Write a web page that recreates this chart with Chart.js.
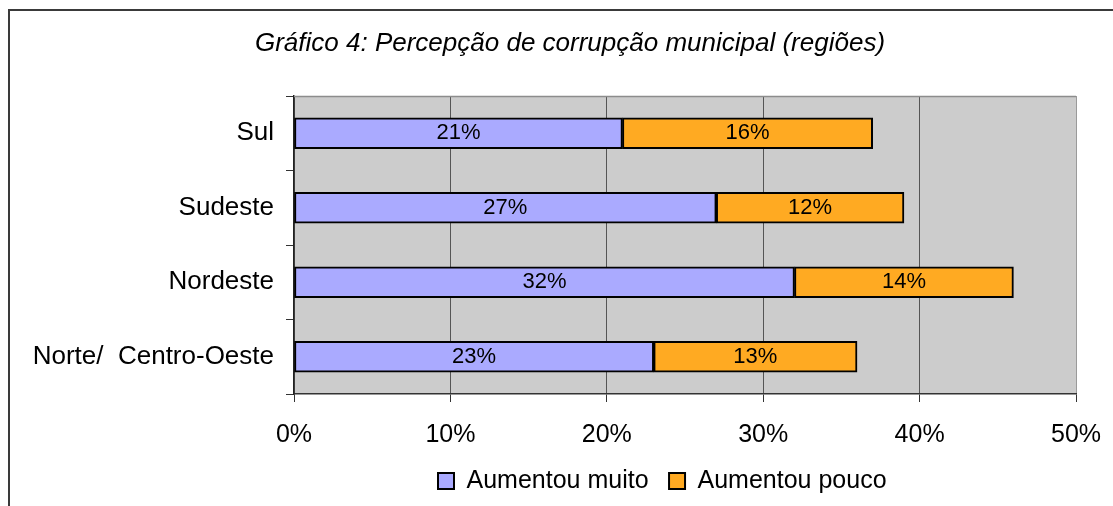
<!DOCTYPE html>
<html><head><meta charset="utf-8">
<script src="https://cdn.jsdelivr.net/npm/chart.js@4/dist/chart.umd.min.js"></script>
<style>html,body{margin:0;padding:0;background:#fff;overflow:hidden;}</style>
</head><body>
<canvas id="c" width="1113" height="506"></canvas>
<script>
const titleText = 'Gráfico 4: Percepção de corrupção municipal (regiões)';
const categories = ['Sul', 'Sudeste', 'Nordeste', 'Norte/  Centro-Oeste'];
const seriesNames = ['Aumentou muito', 'Aumentou pouco'];
const aumentouMuito = [21, 27, 32, 23];
const aumentouPouco = [16, 12, 14, 13];
const xMin = 0, xMax = 50, xStep = 10;

const FONT = "'Liberation Sans', Arial, sans-serif";

const framePlugin = {
  id: 'frame',
  beforeDraw(chart) {
    const ctx = chart.ctx, a = chart.chartArea;
    ctx.save();
    ctx.fillStyle = '#fff';
    ctx.fillRect(0, 0, chart.width, chart.height);
    ctx.strokeStyle = '#3a3a3a';
    ctx.lineWidth = 2;
    ctx.beginPath();
    ctx.moveTo(9, chart.height);
    ctx.lineTo(9, 10);
    ctx.lineTo(chart.width, 10);
    ctx.stroke();
    ctx.fillStyle = '#cccccc';
    ctx.fillRect(a.left, a.top, a.right - a.left, a.bottom - a.top);
    ctx.restore();
  },
  beforeDatasetsDraw(chart) {
    const ctx = chart.ctx, a = chart.chartArea;
    ctx.save();
    ctx.strokeStyle = '#8c8c8c';
    ctx.lineWidth = 1.5;
    ctx.beginPath();
    ctx.moveTo(a.left, a.top + 0.5);
    ctx.lineTo(a.right, a.top + 0.5);
    ctx.stroke();
    ctx.restore();
  },
  afterLayout(chart) {
    const t = chart.titleBlock;
    if (t) { const d = 570 - (t.left + t.right) / 2; t.left += d; t.right += d; }
    const lg = chart.legend;
    if (lg && lg.lineWidths) {
      const p = lg.options.labels.padding;
      const start = (lg.left + p + lg.right - lg.lineWidths[0]) / 2;
      const d = 438 - start;
      lg.left += d; lg.right += d;
    }
  },
  afterDatasetsDraw(chart) {
    const ctx = chart.ctx;
    ctx.save();
    ctx.fillStyle = '#000';
    ctx.font = '22px ' + FONT;
    ctx.textAlign = 'center';
    ctx.textBaseline = 'middle';
    chart.data.datasets.forEach((ds, i) => {
      chart.getDatasetMeta(i).data.forEach((el, j) => {
        const c = el.getCenterPoint();
        ctx.fillText(ds.data[j] + '%', c.x, c.y);
      });
    });
    ctx.restore();
  }
};

new Chart(document.getElementById('c'), {
  type: 'bar',
  data: {
    labels: categories,
    datasets: [
      { label: seriesNames[0], data: aumentouMuito, backgroundColor: '#aaaaff', borderColor: '#000', borderWidth: 2, borderSkipped: false, barThickness: 31 },
      { label: seriesNames[1], data: aumentouPouco, backgroundColor: '#ffaa22', borderColor: '#000', borderWidth: 2, borderSkipped: false, barThickness: 31 }
    ]
  },
  options: {
    indexAxis: 'y',
    responsive: false,
    animation: false,
    devicePixelRatio: 1,
    layout: { padding: { left: 14, right: 37, top: 0, bottom: 2.5 } },
    scales: {
      x: {
        stacked: true, min: xMin, max: xMax,
        afterFit(s) { s.height = 54; s.paddingLeft = 0; s.paddingRight = 0; },
        ticks: { stepSize: xStep, callback: v => v + '%', color: '#000', font: { family: FONT, size: 25 }, padding: 18, maxRotation: 0 },
        grid: { color: c => (c.tick && c.tick.value === xMax) ? '#9a9a9a' : '#555', lineWidth: 1, tickColor: '#333', tickLength: 8, drawTicks: true },
        border: { color: '#333', width: 1.5 }
      },
      y: {
        stacked: true,
        afterFit(s) { s.width = 280; },
        ticks: { color: '#000', font: { family: FONT, size: 26 }, padding: 12 },
        grid: { drawOnChartArea: false, tickColor: '#333', tickLength: 8, offset: true },
        border: { color: '#222', width: 1.5 }
      }
    },
    plugins: {
      title: { display: true, text: titleText, color: '#000', font: { family: FONT, size: 26, style: 'italic', weight: 'normal' }, padding: { top: 28.4, bottom: 36.4 } },
      legend: { position: 'bottom', labels: { boxWidth: 16, boxHeight: 16, padding: 20.5, color: '#000', font: { family: FONT, size: 25 } } },
      tooltip: { enabled: false }
    }
  },
  plugins: [framePlugin]
});
</script>
</body></html>
